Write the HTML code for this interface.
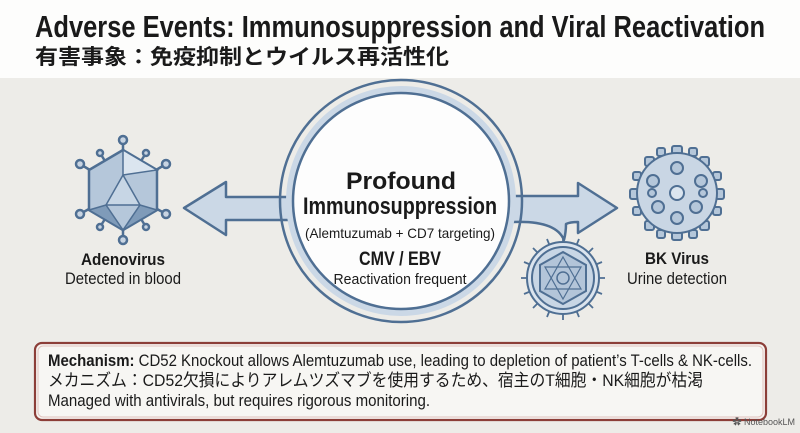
<!DOCTYPE html>
<html><head><meta charset="utf-8"><style>
html,body{margin:0;padding:0;background:#fff}
svg{display:block}
text{font-family:"Liberation Sans","Noto Sans CJK JP",sans-serif;fill:#1a1a1a}
</style></head><body>
<svg width="800" height="433" viewBox="0 0 800 433" xmlns="http://www.w3.org/2000/svg">
<rect x="0" y="0" width="800" height="78" fill="#fdfdfc"/>
<rect x="0" y="78" width="800" height="355" fill="#edece8"/>
<text x="35" y="37" font-size="31" font-weight="bold" textLength="730" lengthAdjust="spacingAndGlyphs">Adverse Events: Immunosuppression and Viral Reactivation</text>
<text x="35" y="64" font-size="21" font-weight="bold" textLength="414" lengthAdjust="spacingAndGlyphs">有害事象：免疫抑制とウイルス再活性化</text>

<!-- left arrow -->
<path d="M290,197 L226,197 L226,182 L184,208 L226,235 L226,220 L290,220 Z" fill="#cbd8e6" stroke="#4f6f93" stroke-width="2.5" stroke-linejoin="round"/>
<!-- right arrow -->
<path d="M512,196 L578,196 L578,183 L617,208 L578,233 L578,222 Q570,222 566,224 Q566,232 564,240 Q556,220 512,222 Z" fill="#cbd8e6" stroke="#4f6f93" stroke-width="2.5" stroke-linejoin="round"/>

<!-- ring -->
<circle cx="401" cy="201" r="115" fill="#cbd8e6" stroke="none"/>
<circle cx="401" cy="201" r="121" fill="none" stroke="#4f6f93" stroke-width="2.5"/>
<circle cx="401" cy="201" r="108" fill="#fdfdfd" stroke="#4f6f93" stroke-width="2.5"/>

<text x="401" y="189" font-size="24" font-weight="bold" text-anchor="middle" textLength="110" lengthAdjust="spacingAndGlyphs">Profound</text>
<text x="400" y="214" font-size="24" font-weight="bold" text-anchor="middle" textLength="194" lengthAdjust="spacingAndGlyphs">Immunosuppression</text>
<text x="400" y="238" font-size="14" text-anchor="middle" textLength="190" lengthAdjust="spacingAndGlyphs">(Alemtuzumab + CD7 targeting)</text>
<text x="400" y="265" font-size="19" font-weight="bold" text-anchor="middle" textLength="82" lengthAdjust="spacingAndGlyphs">CMV / EBV</text>
<text x="400" y="284" font-size="15" text-anchor="middle" textLength="133" lengthAdjust="spacingAndGlyphs">Reactivation frequent</text>

<!-- adenovirus -->
<g stroke="#4f6f93" stroke-width="2.5" fill="#9fb4cc">
<line x1="123" y1="190" x2="123" y2="140"/><line x1="123" y1="190" x2="123" y2="240"/>
<line x1="123" y1="190" x2="80" y2="164"/><line x1="123" y1="190" x2="166" y2="164"/>
<line x1="123" y1="190" x2="80" y2="214"/><line x1="123" y1="190" x2="166" y2="214"/>
<line x1="123" y1="190" x2="146" y2="153"/><line x1="123" y1="190" x2="100" y2="227"/>
<line x1="123" y1="190" x2="146" y2="227"/><line x1="123" y1="190" x2="100" y2="153"/>
<polygon points="123,150 157,170 157,210 123,230 89,210 89,170" fill="#b5c7da"/>
<polygon points="123,150 157,170 123,175" fill="#dbe5ef" stroke-width="1.5"/>
<polygon points="123,175 106,205 140,205" fill="#c7d6e5" stroke-width="1.5"/>
<polygon points="89,210 106,205 123,230" fill="#7f9bb9" stroke-width="1.5"/>
<polygon points="157,210 140,205 123,230" fill="#7f9bb9" stroke-width="1.5"/>
<circle cx="123" cy="140" r="4" fill="#c8d4e2"/><circle cx="123" cy="240" r="4" fill="#c8d4e2"/>
<circle cx="80" cy="164" r="4" fill="#c8d4e2"/><circle cx="166" cy="164" r="4" fill="#c8d4e2"/>
<circle cx="80" cy="214" r="4" fill="#c8d4e2"/><circle cx="166" cy="214" r="4" fill="#c8d4e2"/>
<circle cx="146" cy="153" r="3" fill="#c8d4e2"/><circle cx="100" cy="227" r="3" fill="#c8d4e2"/>
<circle cx="146" cy="227" r="3" fill="#c8d4e2"/><circle cx="100" cy="153" r="3" fill="#c8d4e2"/>
</g>
<text x="123" y="265" font-size="17" font-weight="bold" text-anchor="middle" textLength="84" lengthAdjust="spacingAndGlyphs">Adenovirus</text>
<text x="123" y="284" font-size="17" text-anchor="middle" textLength="116" lengthAdjust="spacingAndGlyphs">Detected in blood</text>

<!-- BK virus -->
<g stroke="#4f6f93" stroke-width="2" fill="#b5c7da">
<rect x="672" y="146" width="10" height="8" rx="2"/><rect x="672" y="232" width="10" height="8" rx="2"/>
<rect x="630" y="189" width="8" height="10" rx="2"/><rect x="716" y="189" width="8" height="10" rx="2"/>
<rect x="645" y="157" width="9" height="9" rx="2"/><rect x="700" y="157" width="9" height="9" rx="2"/>
<rect x="645" y="221" width="9" height="9" rx="2"/><rect x="700" y="221" width="9" height="9" rx="2"/>
<rect x="633" y="172" width="8" height="8" rx="2"/><rect x="713" y="172" width="8" height="8" rx="2"/>
<rect x="633" y="207" width="8" height="8" rx="2"/><rect x="713" y="207" width="8" height="8" rx="2"/>
<rect x="657" y="148" width="8" height="8" rx="2"/><rect x="689" y="148" width="8" height="8" rx="2"/>
<rect x="657" y="230" width="8" height="8" rx="2"/><rect x="689" y="230" width="8" height="8" rx="2"/>
<circle cx="677" cy="193" r="40" fill="#c9d6e4"/>
<circle cx="677" cy="193" r="7" fill="#dbe5ef"/>
<circle cx="677" cy="168" r="6"/><circle cx="677" cy="218" r="6"/>
<circle cx="653" cy="181" r="6"/><circle cx="701" cy="181" r="6"/>
<circle cx="658" cy="207" r="6"/><circle cx="696" cy="207" r="6"/>
<circle cx="652" cy="193" r="4"/><circle cx="703" cy="193" r="4"/>
</g>
<text x="677" y="264" font-size="17" font-weight="bold" text-anchor="middle" textLength="64" lengthAdjust="spacingAndGlyphs">BK Virus</text>
<text x="677" y="284" font-size="17" text-anchor="middle" textLength="100" lengthAdjust="spacingAndGlyphs">Urine detection</text>

<!-- CMV virus -->
<g stroke="#4f6f93" stroke-width="2" fill="#c8d4e2">
<g stroke-width="1.8">
<line x1="563" y1="278" x2="563" y2="236"/><line x1="563" y1="278" x2="563" y2="320"/>
<line x1="563" y1="278" x2="521" y2="278"/><line x1="563" y1="278" x2="605" y2="278"/>
<line x1="563" y1="278" x2="533" y2="248"/><line x1="563" y1="278" x2="593" y2="248"/>
<line x1="563" y1="278" x2="533" y2="308"/><line x1="563" y1="278" x2="593" y2="308"/>
<line x1="563" y1="278" x2="547" y2="239"/><line x1="563" y1="278" x2="579" y2="239"/>
<line x1="563" y1="278" x2="547" y2="317"/><line x1="563" y1="278" x2="579" y2="317"/>
<line x1="563" y1="278" x2="524" y2="262"/><line x1="563" y1="278" x2="602" y2="262"/>
<line x1="563" y1="278" x2="524" y2="294"/><line x1="563" y1="278" x2="602" y2="294"/>
</g>
<circle cx="563" cy="278" r="36" fill="#dbe4ee"/>
<circle cx="563" cy="278" r="31" fill="#c8d6e5"/>
<polygon points="563,252 586,265 586,291 563,304 540,291 540,265" fill="#b3c5d9"/>
<polygon points="563,257 581,289 545,289" fill="none" stroke-width="1.2"/>
<polygon points="563,299 581,267 545,267" fill="none" stroke-width="1.2"/>
<circle cx="563" cy="278" r="6" fill="none" stroke-width="1.5"/>
</g>

<!-- bottom box -->
<rect x="35" y="343" width="731" height="77" rx="7" fill="#f7f6f3" stroke="#8c3e38" stroke-width="2.2"/>
<rect x="38" y="346" width="725" height="71" rx="5" fill="none" stroke="#e2c3be" stroke-width="1"/>
<text x="48" y="366" font-size="17" textLength="704" lengthAdjust="spacingAndGlyphs"><tspan font-weight="bold">Mechanism:</tspan> CD52 Knockout allows Alemtuzumab use, leading to depletion of patient’s T-cells &amp; NK-cells.</text>
<text x="48" y="386" font-size="17" textLength="655" lengthAdjust="spacingAndGlyphs">メカニズム：CD52欠損によりアレムツズマブを使用するため、宿主のT細胞・NK細胞が枯渇</text>
<text x="48" y="406" font-size="17" textLength="382" lengthAdjust="spacingAndGlyphs">Managed with antivirals, but requires rigorous monitoring.</text>

<text x="795" y="425" font-size="9" text-anchor="end" style="fill:#555">✿ NotebookLM</text>
</svg>
</body></html>
